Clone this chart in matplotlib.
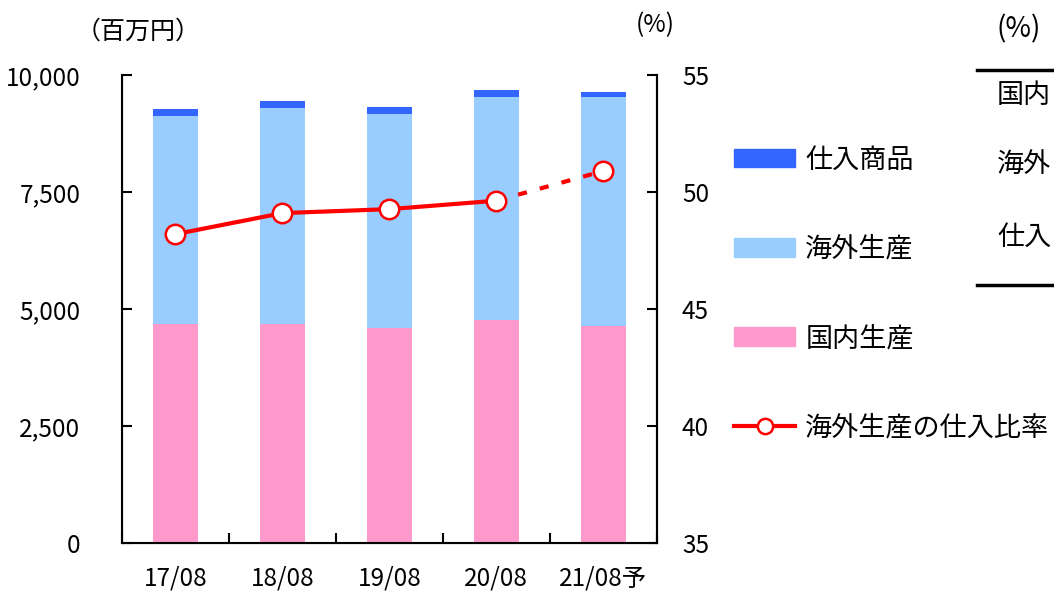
import matplotlib
matplotlib.use("Agg")
import matplotlib.pyplot as plt
from matplotlib.patches import Patch
from matplotlib.lines import Line2D

plt.rcParams['font.family'] = ['Noto Sans CJK JP', 'DejaVu Sans']

categories = ["17/08", "18/08", "19/08", "20/08", "21/08予"]
domestic = [4680, 4680, 4600, 4770, 4640]          # 国内生産
overseas = [4445, 4615, 4567, 4760, 4890]          # 海外生産
purchased = [150, 150, 150, 150, 107]              # 仕入商品
ratio = [48.2, 49.1, 49.27, 49.63, 50.9]           # 海外生産の仕入比率 (%)
left_ticks = [0, 2500, 5000, 7500, 10000]
left_ticklabels = ["0", "2,500", "5,000", "7,500", "10,000"]
right_ticks = [35, 40, 45, 50, 55]

c_dom = "#FF99CC"
c_ovs = "#99CCFF"
c_pur = "#3366FF"
c_red = "#FF0000"

fig = plt.figure(figsize=(10.54, 5.91), dpi=100)
ax = fig.add_axes([0.1157, 0.0812, 0.5075, 0.7918])
x = list(range(len(categories)))
w = 0.42
ax.bar(x, domestic, w, color=c_dom)
ax.bar(x, overseas, w, bottom=domestic, color=c_ovs)
bot2 = [d + o for d, o in zip(domestic, overseas)]
ax.bar(x, purchased, w, bottom=bot2, color=c_pur)
ax.set_xlim(-0.5, len(categories) - 0.5)
ax.set_ylim(0, 10000)
ax.set_yticks(left_ticks)
ax.set_yticklabels(left_ticklabels)
ax.set_xticks(x)
ax.set_xticklabels(categories)
ax.set_xticks([i + 0.5 for i in range(-1, len(categories))], minor=True)
ax.tick_params(axis='x', which='major', length=0, pad=16, labelsize=17.5)
ax.tick_params(axis='x', which='minor', direction='in', length=7, width=1.5)
ax.tick_params(axis='y', direction='in', length=7, width=1.5, pad=30, labelsize=17.5)
ax.spines['top'].set_visible(False)
for s in ['left', 'right', 'bottom']:
    ax.spines[s].set_linewidth(1.5)

ax2 = ax.twinx()
ax2.set_ylim(35, 55)
ax2.set_yticks(right_ticks)
ax2.tick_params(axis='y', direction='in', length=7, width=1.5, pad=18, labelsize=17.5)
ax2.spines['top'].set_visible(False)
ax2.spines['right'].set_linewidth(1.5)
ax2.plot(x[:4], ratio[:4], color=c_red, lw=3, zorder=3)
ax2.plot(x[3:], ratio[3:], color=c_red, lw=3, ls=(0, (2.2, 3.2)), zorder=3)
ax2.plot(x, ratio, ls='none', marker='o', ms=14, mfc='white', mec=c_red, mew=1.8, zorder=4)

fig.text(0.131, 0.946, "（百万円）", fontsize=18, ha='center', va='center')
fig.text(0.622, 0.958, "(%)", fontsize=17.5, ha='center', va='center')

handles = [Patch(color=c_pur), Patch(color=c_ovs), Patch(color=c_dom),
           Line2D([], [], color=c_red, lw=3, marker='o', ms=11, mfc='white', mec=c_red, mew=1.8)]
labels = ["仕入商品", "海外生産", "国内生産", "海外生産の仕入比率"]
fig.legend(handles, labels, loc='upper left', bbox_to_anchor=(0.6964, 0.752), frameon=False,
           fontsize=19.5, handlelength=2.26, handleheight=0.67, labelspacing=2.3,
           handletextpad=0.37, borderaxespad=0, borderpad=0)

# partial table on the right edge
fig.text(0.945, 0.95, "(%)", fontsize=20, ha='left', va='center')
fig.add_artist(Line2D([0.927, 1.0], [0.882, 0.882], color='black', lw=2.5, transform=fig.transFigure))
fig.add_artist(Line2D([0.927, 1.0], [0.518, 0.518], color='black', lw=2.5, transform=fig.transFigure))
fig.text(0.946, 0.839, "国内", fontsize=19.5, ha='left', va='center')
fig.text(0.946, 0.721, "海外", fontsize=19.5, ha='left', va='center')
fig.text(0.946, 0.599, "仕入", fontsize=19.5, ha='left', va='center')

fig.savefig("out.png", dpi=100)
